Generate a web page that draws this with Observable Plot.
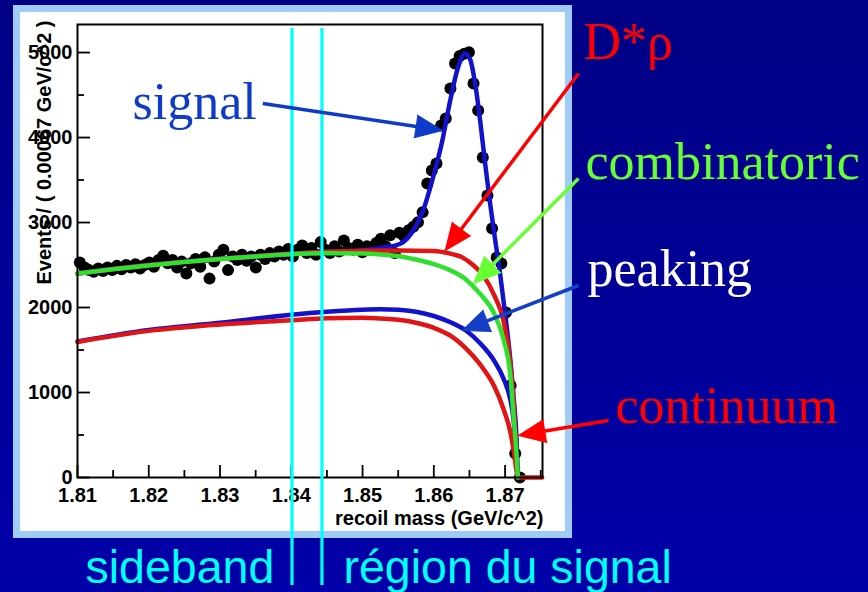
<!DOCTYPE html>
<html lang="fr">
<head>
<meta charset="utf-8">
<script src="https://cdn.jsdelivr.net/npm/d3@7"></script>
<script src="https://cdn.jsdelivr.net/npm/@observablehq/plot@0.6"></script>
<style>
  html, body { margin: 0; padding: 0; }
  body { width: 868px; height: 592px; overflow: hidden;
         background: linear-gradient(to bottom, #000084 0%, #000098 55%, #0000a8 100%); }
  #wrap { position: relative; width: 868px; height: 592px; }
  #panel { position: absolute; left: 13px; top: 5px; width: 559px; height: 533px;
           box-sizing: border-box; border: 7px solid #9ecbf7; background: #ffffff; }
  #chart { position: absolute; left: 0; top: 0; }
  #chart svg { overflow: visible; }
</style>
</head>
<body>
<div id="wrap"><div id="panel"></div><div id="chart"></div></div>
<script>
// ---------------- data ----------------
const binStart = 1.81;
const binWidth = 0.00065;
const counts = [
  2530, 2470, 2440, 2420, 2460, 2430, 2470, 2440, 2490, 2450,
  2500, 2470, 2510, 2460, 2500, 2530, 2480, 2560, 2610, 2520,
  2560, 2470, 2540, 2400, 2520, 2570, 2480, 2590, 2340, 2540,
  2620, 2680, 2440, 2600, 2560, 2620, 2550, 2600, 2470, 2620,
  2570, 2640, 2600, 2660, 2620, 2690, 2600, 2680, 2730, 2640,
  2700, 2620, 2770, 2680, 2640, 2720, 2660, 2790, 2700, 2680,
  2740, 2650, 2720, 2690, 2760, 2810, 2720, 2850, 2640, 2880,
  2840, 2910, 2950, 3004, 3121, 3459, 3612, 3694, 4141, 4224,
  4576, 4870, 4960, 4985, 5003, 4635, 4318, 3765, 3318, 2929,
  2588, 2518, 1941, 1082, 282, 0
];
const fitTotal = [
  [1.810, 2400], [1.815, 2452], [1.820, 2500], [1.825, 2540], [1.830, 2575],
  [1.835, 2605], [1.840, 2635], [1.845, 2660], [1.850, 2675], [1.8525, 2700],
  [1.8553, 2750], [1.8571, 2906], [1.8585, 3141], [1.8599, 3533], [1.8612, 3965],
  [1.8623, 4435], [1.8634, 4827], [1.8644, 4990], [1.8651, 4920], [1.8658, 4635],
  [1.8665, 4200], [1.8672, 3694], [1.8679, 3224], [1.8686, 2800], [1.8693, 2400],
  [1.8700, 1929], [1.8707, 1412], [1.8712, 941], [1.8716, 470], [1.8718, 0]
];
const fitDstarRho = [
  [1.810, 2400], [1.820, 2500], [1.830, 2572], [1.840, 2632], [1.845, 2655],
  [1.850, 2668], [1.855, 2672], [1.860, 2665], [1.862, 2640], [1.864, 2590],
  [1.8655, 2500], [1.867, 2370], [1.8685, 2140], [1.8697, 1870], [1.8705, 1500],
  [1.871, 1100], [1.8714, 600], [1.8716, 250], [1.8718, 0]
];
const fitCombinatoric = [
  [1.810, 2400], [1.815, 2450], [1.820, 2495], [1.825, 2535], [1.830, 2570],
  [1.835, 2600], [1.840, 2628], [1.845, 2640], [1.850, 2635], [1.8525, 2625],
  [1.855, 2605], [1.8575, 2565], [1.860, 2510], [1.8625, 2430], [1.8645, 2330],
  [1.8665, 2160], [1.8685, 1925], [1.8698, 1620], [1.8707, 1230], [1.8712, 720],
  [1.8715, 400], [1.8718, 0]
];
const fitPeaking = [
  [1.810, 1600], [1.820, 1735], [1.830, 1820], [1.840, 1915], [1.845, 1950],
  [1.850, 1975], [1.8525, 1980], [1.855, 1975], [1.8575, 1950], [1.860, 1900],
  [1.8625, 1820], [1.8645, 1730], [1.8665, 1580], [1.8685, 1370], [1.8698, 1160],
  [1.8707, 930], [1.8712, 670], [1.8715, 340], [1.8718, 0]
];
const fitContinuum = [
  [1.810, 1595], [1.820, 1725], [1.830, 1800], [1.840, 1850], [1.845, 1875],
  [1.850, 1880], [1.8525, 1870], [1.855, 1855], [1.8575, 1820], [1.860, 1760],
  [1.8625, 1660], [1.8645, 1520], [1.8665, 1330], [1.8685, 1070], [1.8698, 800],
  [1.8707, 550], [1.8712, 320], [1.8716, 80], [1.8718, 0], [1.8752, 0]
];
const xTicks = [1.81, 1.82, 1.83, 1.84, 1.85, 1.86, 1.87];
const xMinorTicks = [1.815, 1.825, 1.835, 1.845, 1.855, 1.865, 1.875];
const yTicks = [0, 1000, 2000, 3000, 4000, 5000];
const yMinorTicks = [500, 1500, 2500, 3500, 4500];
const regionEdges = [1.8401, 1.8443];
const componentLabels = ["signal", "D*ρ", "combinatoric", "peaking", "continuum"];
const regionLabels = ["sideband", "région du signal"];
const xTitle = "recoil mass (GeV/c^2)";
const yTitle = "Events / ( 0.00067 GeV/c^2 )";

// ---------------- layout & style ----------------
const W = 868, H = 592;
const margin = {left: 77, top: 24, right: 326, bottom: 115};
const xDomain = [1.81, 1.87525], yDomain = [0, 5330];
const arrowAnchors = [ // [from, to] in data units
  [[1.8360, 4400], [1.8612, 4083]],
  [[1.8803, 4754], [1.8616, 2671]],
  [[1.8803, 3518], [1.8656, 2283]],
  [[1.8803, 2259], [1.8640, 1730]],
  [[1.8845, 671],  [1.8719, 494]]
];
const labelBaselines = [[132, 118], [583, 58], [585, 178], [587, 285], [615, 422]];
const regionBaselines = [[85, 582], [343, 582]];
const labelColors = ["#0e3cc8", "#ff0000", "#66ff33", "#ffffff", "#ff0000"];
const arrowColors = ["#0e3cc8", "#ff0000", "#66ff33", "#1440c8", "#ff0000"];
const BLUE = "#1212cc", RED = "#e01515", GREEN = "#2fe02f", CYAN = "#00ffff";
const headLen = 27, headR = 11.5;

const xs = d3.scaleLinear(xDomain, [margin.left, W - margin.right]);
const ys = d3.scaleLinear(yDomain, [H - margin.bottom, margin.top]);

const points = counts.map((n, i) => ({m: binStart + (i + 0.5) * binWidth, n}));

const arrows = arrowAnchors.map(([[x1, y1], [x2, y2]], i) => {
  const px1 = xs(x1), py1 = ys(y1), px2 = xs(x2), py2 = ys(y2);
  const dx = px2 - px1, dy = py2 - py1, len = Math.hypot(dx, dy);
  const ux = dx / len, uy = dy / len;
  const ex = px2 - ux * headLen * 0.6, ey = py2 - uy * headLen * 0.6;
  return {
    x1, y1, x2, y2,
    xe: xs.invert(ex), ye: ys.invert(ey),
    angle: Math.atan2(dx, -dy) * 180 / Math.PI,
    color: arrowColors[i]
  };
});

const fitLine = (data, stroke) => Plot.line(data, {
  x: d => d[0], y: d => d[1], stroke, strokeWidth: 4.5, curve: "monotone-x",
  strokeLinejoin: "round"
});

const marks = [
  Plot.dot(points, {x: "m", y: "n", r: 6, fill: "black"}),
  fitLine(fitTotal, BLUE),
  fitLine(fitDstarRho, RED),
  fitLine(fitPeaking, BLUE),
  fitLine(fitContinuum, RED),
  fitLine(fitCombinatoric, GREEN),
  Plot.frame({stroke: "black", strokeWidth: 2}),
  Plot.axisY(yTicks, {tickSize: -13, tickPadding: 18, tickFormat: d => String(d), label: null, strokeWidth: 1.8}),
  Plot.axisY(yMinorTicks, {tickSize: -7, tickFormat: () => "", label: null, strokeWidth: 1.8}),
  Plot.axisX(xTicks, {tickSize: -12, tickPadding: 22, tickFormat: d => d.toFixed(2), label: null, strokeWidth: 1.8}),
  Plot.axisX(xMinorTicks, {tickSize: -7, tickFormat: () => "", label: null, strokeWidth: 1.8}),
  Plot.text([yTitle], {text: d => d, frameAnchor: "top-left", dx: -41, dy: -4, rotate: -90,
    textAnchor: "end", fontSize: 20, fontWeight: "bold", fill: "black"}),
  Plot.text([xTitle], {text: d => d, frameAnchor: "bottom-right", dx: 1, dy: 47,
    textAnchor: "end", lineAnchor: "bottom", fontSize: 20, fontWeight: "bold", fill: "black"}),
  Plot.ruleX(regionEdges, {x: d => d, y1: () => 5282, y2: () => -1271, stroke: CYAN, strokeWidth: 3.2}),
  Plot.link(arrows, {x1: "x1", y1: "y1", x2: "xe", y2: "ye", stroke: "color", strokeWidth: 3.5}),
  Plot.vector(arrows, {x: "x2", y: "y2", rotate: "angle", length: headLen, anchor: "end",
    shape: "spike", r: headR, fill: "color", stroke: "color", strokeWidth: 1})
];

componentLabels.forEach((label, i) => {
  const [px, py] = labelBaselines[i];
  marks.push(Plot.text([label], {text: d => d, frameAnchor: "top-left",
    dx: px - margin.left, dy: py - margin.top, textAnchor: "start", lineAnchor: "bottom",
    fontFamily: "'Liberation Serif', 'Times New Roman', serif", fontSize: 52,
    fontWeight: "normal", fill: labelColors[i]}));
});
regionLabels.forEach((label, i) => {
  const [px, py] = regionBaselines[i];
  marks.push(Plot.text([label], {text: d => d, frameAnchor: "top-left",
    dx: px - margin.left, dy: py - margin.top, textAnchor: "start", lineAnchor: "bottom",
    fontFamily: "'Liberation Sans', Arial, sans-serif", fontSize: 46.5,
    fontWeight: "normal", fill: CYAN}));
});

const plot = Plot.plot({
  width: W, height: H,
  marginLeft: margin.left, marginTop: margin.top, marginRight: margin.right, marginBottom: margin.bottom,
  x: {domain: xDomain},
  y: {domain: yDomain},
  color: {type: "identity"},
  style: {background: "transparent", fontFamily: "'Liberation Sans', Arial, Helvetica, sans-serif",
          fontSize: "20px", fontWeight: "bold", color: "black", overflow: "visible"},
  marks
});
document.getElementById("chart").append(plot);
</script>
</body>
</html>
